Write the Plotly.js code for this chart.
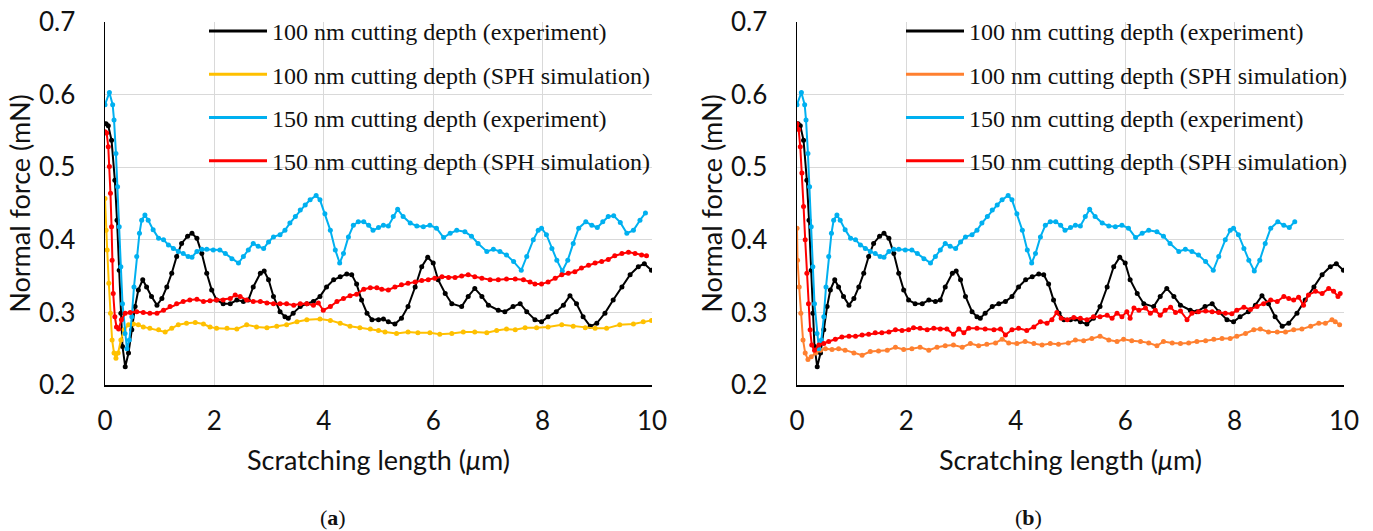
<!DOCTYPE html>
<html>
<head>
<meta charset="utf-8">
<script src="https://cdn.plot.ly/plotly-3.0.1.min.js"></script>
<style>html,body{margin:0;padding:0;background:#fff;}#chart{width:1373px;height:531px;}</style>
</head>
<body>
<div id="chart"></div>
<script>
// ---------- data ----------
const legendNames = [
  "100 nm cutting depth (experiment)",
  "100 nm cutting depth (SPH simulation)",
  "150 nm cutting depth (experiment)",
  "150 nm cutting depth (SPH simulation)"
];
const xTickVals = [0, 2, 4, 6, 8, 10];
const yTickVals = [0.2, 0.3, 0.4, 0.5, 0.6, 0.7];

// 100 nm experiment (same in both panels)
const xExp100 = [0.02,0.06,0.12,0.18,0.22,0.26,0.29,0.32,0.37,0.43,0.49,0.55,0.61,0.69,0.76,0.85,0.95,1.04,1.13,1.22,1.31,1.4,1.51,1.59,1.68,1.77,1.86,1.95,2.04,2.16,2.29,2.41,2.53,2.62,2.71,2.84,2.91,2.99,3.08,3.2,3.29,3.35,3.44,3.57,3.69,3.81,3.93,4.05,4.18,4.3,4.42,4.51,4.6,4.69,4.79,4.88,5.0,5.09,5.18,5.3,5.42,5.54,5.67,5.79,5.9,6.0,6.09,6.22,6.34,6.52,6.64,6.76,6.89,7.01,7.19,7.31,7.46,7.59,7.71,7.86,7.98,8.1,8.25,8.38,8.5,8.62,8.74,8.87,8.99,9.14,9.29,9.45,9.6,9.75,9.86,9.99];
const yExp100 = [0.56,0.557,0.537,0.482,0.427,0.358,0.299,0.253,0.225,0.244,0.276,0.308,0.331,0.345,0.335,0.322,0.31,0.319,0.335,0.354,0.377,0.395,0.405,0.409,0.402,0.381,0.354,0.331,0.317,0.312,0.312,0.317,0.315,0.317,0.335,0.354,0.357,0.345,0.322,0.301,0.294,0.292,0.299,0.308,0.312,0.315,0.322,0.335,0.345,0.349,0.353,0.352,0.339,0.317,0.299,0.29,0.29,0.291,0.287,0.284,0.292,0.308,0.335,0.363,0.376,0.368,0.345,0.326,0.312,0.308,0.322,0.333,0.322,0.31,0.303,0.301,0.308,0.312,0.301,0.29,0.287,0.294,0.301,0.31,0.323,0.312,0.294,0.281,0.285,0.299,0.317,0.335,0.352,0.363,0.367,0.358];

// 150 nm experiment (same in both panels; panel b stops at 9.1 um)
const xExp150 = [0,0.08,0.14,0.165,0.2,0.23,0.26,0.29,0.32,0.366,0.4,0.445,0.49,0.53,0.58,0.63,0.67,0.73,0.79,0.88,0.98,1.07,1.16,1.25,1.34,1.43,1.52,1.59,1.68,1.77,1.86,1.98,2.1,2.2,2.32,2.44,2.53,2.62,2.71,2.8,2.9,2.99,3.08,3.2,3.29,3.38,3.48,3.57,3.66,3.75,3.86,3.93,4.02,4.12,4.21,4.29,4.36,4.45,4.54,4.63,4.73,4.82,4.9,5.0,5.09,5.18,5.27,5.35,5.45,5.58,5.7,5.82,5.94,6.06,6.19,6.31,6.43,6.58,6.7,6.82,6.98,7.1,7.22,7.34,7.47,7.61,7.71,7.83,7.92,7.98,8.07,8.17,8.26,8.36,8.46,8.56,8.66,8.79,8.9,9.0,9.1,9.2,9.3,9.42,9.54,9.66,9.78,9.88];
const yExp150 = [0.586,0.603,0.586,0.565,0.519,0.473,0.418,0.363,0.312,0.271,0.25,0.262,0.294,0.335,0.377,0.409,0.427,0.434,0.427,0.414,0.402,0.4,0.393,0.388,0.384,0.381,0.377,0.376,0.384,0.387,0.387,0.386,0.386,0.381,0.374,0.368,0.377,0.386,0.395,0.391,0.388,0.397,0.404,0.407,0.413,0.423,0.432,0.441,0.448,0.455,0.461,0.455,0.436,0.413,0.386,0.368,0.381,0.404,0.42,0.425,0.425,0.42,0.413,0.417,0.42,0.419,0.432,0.442,0.432,0.423,0.419,0.418,0.42,0.416,0.403,0.409,0.413,0.411,0.405,0.395,0.384,0.387,0.384,0.379,0.37,0.358,0.377,0.4,0.413,0.416,0.407,0.388,0.372,0.357,0.372,0.395,0.416,0.425,0.42,0.417,0.425,0.432,0.433,0.424,0.409,0.413,0.427,0.437];
const expEndB = 9.1;

// panel (a) simulations
const xSphA100 = [0,0.02,0.04,0.07,0.1,0.13,0.165,0.2,0.24,0.29,0.35,0.43,0.52,0.61,0.7,0.82,0.98,1.1,1.22,1.34,1.49,1.65,1.8,1.92,2.04,2.23,2.41,2.59,2.77,2.96,3.14,3.32,3.51,3.69,3.93,4.12,4.3,4.48,4.66,4.85,5.0,5.12,5.33,5.54,5.72,5.94,6.12,6.34,6.55,6.76,6.98,7.16,7.34,7.5,7.68,7.89,8.1,8.35,8.56,8.78,8.96,9.17,9.41,9.66,9.84,9.99];
const ySphA100 = [0.457,0.413,0.386,0.34,0.299,0.262,0.244,0.237,0.244,0.262,0.276,0.283,0.284,0.283,0.28,0.278,0.276,0.273,0.278,0.283,0.285,0.286,0.284,0.28,0.278,0.278,0.277,0.283,0.28,0.279,0.281,0.283,0.287,0.29,0.291,0.289,0.285,0.281,0.279,0.277,0.275,0.273,0.271,0.273,0.272,0.272,0.27,0.271,0.273,0.273,0.272,0.275,0.277,0.276,0.279,0.279,0.28,0.283,0.281,0.279,0.278,0.278,0.283,0.284,0.287,0.289];
const xSphA150 = [0,0.03,0.06,0.08,0.1,0.12,0.13,0.15,0.18,0.21,0.25,0.3,0.37,0.46,0.58,0.7,0.82,0.95,1.07,1.19,1.31,1.43,1.55,1.68,1.8,1.92,2.04,2.16,2.29,2.38,2.47,2.59,2.71,2.84,2.96,3.08,3.2,3.32,3.45,3.57,3.69,3.81,3.9,3.99,4.12,4.24,4.36,4.48,4.6,4.73,4.85,4.97,5.06,5.18,5.3,5.42,5.54,5.67,5.79,5.91,6.03,6.16,6.28,6.4,6.52,6.64,6.76,6.89,7.04,7.19,7.34,7.5,7.65,7.77,7.86,7.98,8.1,8.23,8.35,8.47,8.59,8.71,8.84,8.96,9.08,9.2,9.32,9.45,9.57,9.69,9.81,9.9];
const ySphA150 = [0.549,0.547,0.528,0.501,0.464,0.418,0.372,0.326,0.294,0.28,0.277,0.29,0.299,0.3,0.301,0.3,0.299,0.299,0.303,0.308,0.312,0.315,0.317,0.318,0.315,0.316,0.317,0.317,0.319,0.324,0.322,0.317,0.315,0.315,0.313,0.312,0.312,0.312,0.31,0.312,0.312,0.31,0.313,0.303,0.308,0.315,0.319,0.323,0.325,0.332,0.334,0.334,0.332,0.331,0.335,0.338,0.34,0.342,0.344,0.345,0.347,0.349,0.348,0.348,0.35,0.352,0.349,0.347,0.345,0.345,0.346,0.346,0.345,0.342,0.339,0.339,0.342,0.347,0.352,0.354,0.356,0.361,0.365,0.368,0.37,0.373,0.378,0.381,0.383,0.381,0.379,0.378];

// panel (b) simulations
const xSphB100 = [0,0.01,0.04,0.07,0.11,0.15,0.2,0.26,0.34,0.43,0.52,0.64,0.76,0.88,1.04,1.19,1.34,1.49,1.65,1.8,1.95,2.1,2.25,2.41,2.56,2.71,2.86,3.02,3.17,3.32,3.47,3.63,3.75,3.87,4.02,4.17,4.33,4.48,4.63,4.78,4.96,5.09,5.24,5.39,5.54,5.7,5.85,5.97,6.12,6.28,6.43,6.58,6.7,6.86,7.01,7.16,7.31,7.47,7.62,7.77,7.92,8.04,8.2,8.35,8.47,8.62,8.78,8.93,9.08,9.23,9.39,9.54,9.66,9.78,9.84,9.92];
const ySphB100 = [0.416,0.372,0.335,0.299,0.262,0.244,0.235,0.239,0.244,0.248,0.25,0.249,0.25,0.248,0.244,0.241,0.246,0.247,0.248,0.252,0.249,0.25,0.252,0.248,0.252,0.254,0.255,0.252,0.257,0.254,0.256,0.258,0.263,0.258,0.257,0.26,0.257,0.255,0.257,0.256,0.258,0.262,0.261,0.264,0.267,0.262,0.26,0.263,0.261,0.26,0.258,0.254,0.26,0.258,0.257,0.258,0.26,0.261,0.263,0.264,0.264,0.267,0.271,0.276,0.277,0.273,0.273,0.273,0.276,0.277,0.281,0.285,0.285,0.29,0.287,0.283];
const xSphB150 = [0,0.03,0.06,0.09,0.12,0.15,0.18,0.21,0.24,0.27,0.32,0.4,0.49,0.58,0.7,0.82,0.95,1.07,1.19,1.31,1.43,1.55,1.68,1.8,1.92,2.04,2.13,2.25,2.38,2.5,2.62,2.74,2.86,2.96,3.05,3.14,3.29,3.44,3.6,3.72,3.81,3.93,4.05,4.2,4.33,4.45,4.57,4.66,4.75,4.83,4.94,5.06,5.18,5.3,5.42,5.54,5.67,5.76,5.85,5.94,6.03,6.09,6.16,6.25,6.37,6.46,6.55,6.64,6.73,6.83,6.92,7.01,7.13,7.22,7.34,7.47,7.59,7.71,7.83,7.95,8.04,8.17,8.29,8.41,8.53,8.66,8.78,8.9,8.99,9.08,9.17,9.26,9.35,9.48,9.6,9.72,9.81,9.89,9.93];
const ySphB150 = [0.56,0.552,0.528,0.492,0.446,0.4,0.354,0.312,0.276,0.255,0.248,0.255,0.257,0.26,0.263,0.266,0.267,0.267,0.269,0.27,0.272,0.272,0.273,0.276,0.275,0.276,0.279,0.278,0.276,0.278,0.277,0.277,0.27,0.277,0.272,0.278,0.278,0.277,0.276,0.277,0.269,0.276,0.278,0.275,0.28,0.287,0.285,0.29,0.3,0.292,0.29,0.293,0.292,0.29,0.294,0.294,0.296,0.292,0.299,0.294,0.301,0.292,0.306,0.303,0.306,0.299,0.303,0.296,0.303,0.307,0.3,0.302,0.29,0.299,0.301,0.302,0.301,0.3,0.299,0.298,0.303,0.307,0.304,0.308,0.312,0.317,0.315,0.322,0.319,0.317,0.321,0.31,0.324,0.329,0.326,0.333,0.329,0.322,0.326];

// ---------- styles ----------
const colBlack = '#000000', colYellow = '#FFC000', colBlue = '#00B0F0', colRed = '#FF0000', colOrange = '#FF8030';
const W = 1373, H = 531;

// panel b experiment at 150 nm stops at expEndB
const idxB = xExp150.filter(v => v <= expEndB + 1e-9).length;
const xExp150B = xExp150.slice(0, idxB), yExp150B = yExp150.slice(0, idxB);

function dataTrace(x, y, color, xa, ya) {
  return {x: x, y: y, xaxis: xa, yaxis: ya, type: 'scatter', mode: 'lines+markers',
    line: {color: color, width: 2}, marker: {color: color, size: 5}, showlegend: false, hoverinfo: 'x+y'};
}
function legendTrace(name, color, xa, ya, leg, grp) {
  return {x: [null], y: [null], xaxis: xa, yaxis: ya, type: 'scatter', mode: 'lines', name: name,
    line: {color: color, width: 3}, legend: leg, legendgroup: grp, showlegend: true};
}

const traces = [
  dataTrace(xExp100, yExp100, colBlack, 'x', 'y'),
  dataTrace(xSphA100, ySphA100, colYellow, 'x', 'y'),
  dataTrace(xExp150, yExp150, colBlue, 'x', 'y'),
  dataTrace(xSphA150, ySphA150, colRed, 'x', 'y'),
  dataTrace(xExp100, yExp100, colBlack, 'x2', 'y2'),
  dataTrace(xSphB100, ySphB100, colOrange, 'x2', 'y2'),
  dataTrace(xExp150B, yExp150B, colBlue, 'x2', 'y2'),
  dataTrace(xSphB150, ySphB150, colRed, 'x2', 'y2'),
  legendTrace(legendNames[0], colBlack, 'x', 'y', 'legend', 'a1'),
  legendTrace(legendNames[1], colYellow, 'x', 'y', 'legend', 'a2'),
  legendTrace(legendNames[2], colBlue, 'x', 'y', 'legend', 'a3'),
  legendTrace(legendNames[3], colRed, 'x', 'y', 'legend', 'a4'),
  legendTrace(legendNames[0], colBlack, 'x2', 'y2', 'legend2', 'b1'),
  legendTrace(legendNames[1], colOrange, 'x2', 'y2', 'legend2', 'b2'),
  legendTrace(legendNames[2], colBlue, 'x2', 'y2', 'legend2', 'b3'),
  legendTrace(legendNames[3], colRed, 'x2', 'y2', 'legend2', 'b4')
];

const tickFont = {family: 'Lato, "Open Sans", sans-serif', size: 26, color: '#111'};
const titleFont = {family: 'Lato, "Open Sans", sans-serif', size: 27, color: '#111'};
const xTitle = 'Scratching length (<i>μ</i>m)';
const yTitle = 'Normal force (mN)';

function xAxis(dom, anchor) {
  return {domain: dom, anchor: anchor, range: [0, 10], tickvals: xTickVals, ticks: '',
    showgrid: true, gridcolor: '#D9D9D9', gridwidth: 1, zeroline: false,
    showline: true, linecolor: '#000', linewidth: 1.5, tickfont: tickFont, ticklabelstandoff: 12,
    title: {text: xTitle, font: titleFont, standoff: 16}, fixedrange: true};
}
function yAxis(anchor) {
  return {domain: [1 - 385 / H, 1 - 22 / H], anchor: anchor, range: [0.2, 0.7], tickvals: yTickVals,
    tickformat: '.1f', ticks: '', showgrid: true, gridcolor: '#D9D9D9', gridwidth: 1, zeroline: false,
    showline: true, linecolor: '#000', linewidth: 1.5, tickfont: tickFont, ticklabelstandoff: 23,
    title: {text: yTitle, font: titleFont, standoff: 0}, fixedrange: true};
}
const legFont = {family: '"Liberation Serif", "Times New Roman", serif', size: 24, color: '#111'};

const layout = {
  width: W, height: H, margin: {l: 0, r: 0, t: 0, b: 0},
  paper_bgcolor: '#fff', plot_bgcolor: '#fff', showlegend: true,
  xaxis: xAxis([105 / W, 652 / W], 'y'),
  yaxis: yAxis('x'),
  xaxis2: xAxis([797 / W, 1344 / W], 'y2'),
  yaxis2: yAxis('x2'),
  legend: {x: 204 / W, y: 1 - 9 / H, xanchor: 'left', yanchor: 'top', bgcolor: 'rgba(0,0,0,0)',
    font: legFont, itemwidth: 58, tracegroupgap: 9, traceorder: 'grouped'},
  legend2: {x: 901 / W, y: 1 - 9 / H, xanchor: 'left', yanchor: 'top', bgcolor: 'rgba(0,0,0,0)',
    font: legFont, itemwidth: 58, tracegroupgap: 9, traceorder: 'grouped'},
  annotations: [
    {text: '(<b>a</b>)', xref: 'paper', yref: 'paper', x: 333 / W, y: 1 - 517 / H, showarrow: false,
      xanchor: 'center', yanchor: 'middle', font: {family: '"Liberation Serif", serif', size: 22, color: '#111'}},
    {text: '(<b>b</b>)', xref: 'paper', yref: 'paper', x: 1028 / W, y: 1 - 517 / H, showarrow: false,
      xanchor: 'center', yanchor: 'middle', font: {family: '"Liberation Serif", serif', size: 22, color: '#111'}}
  ]
};

Plotly.newPlot('chart', traces, layout, {displayModeBar: false, responsive: false, staticPlot: true});
</script>
</body>
</html>
